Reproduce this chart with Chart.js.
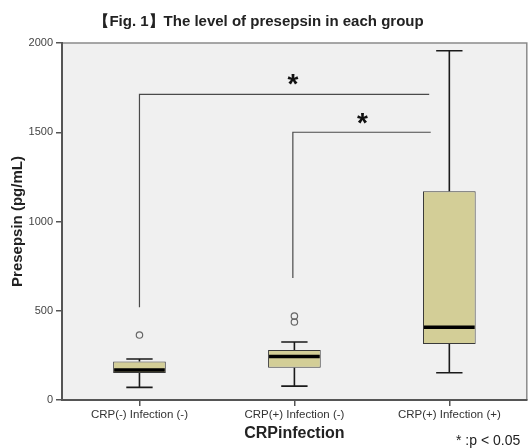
<!DOCTYPE html>
<html>
<head>
<meta charset="utf-8">
<script src="https://cdn.jsdelivr.net/npm/chart.js@4.4.1/dist/chart.umd.min.js"></script>
<style>
  html,body{margin:0;padding:0;background:#fff;}
  #wrap{width:532px;height:448px;}
</style>
</head>
<body>
<div id="wrap"><canvas id="grafica" width="532" height="448"></canvas></div>
<script>
// Datos del boxplot
const categorias = ['CRP(-) Infection (-)', 'CRP(+) Infection (-)', 'CRP(+) Infection (+)'];
const minimos  = [71, 78, 153];
const q1       = [151, 181, 314];
const medianas = [168, 243, 407];
const q3       = [215, 280, 1170];
const maximos  = [230, 325, 1957];
const outCat   = [0, 1, 1];          // categoria de cada valor atipico
const outVal   = [364, 470, 437];
const yTicks   = [0, 500, 1000, 1500, 2000];

// Lineas de significancia: desde / hasta (indice de categoria), altura y caida
const sigDesde  = [0, 0.99];
const sigHasta  = [1.87, 1.88];
const sigAltura = [1712, 1500];
const sigCaida  = [520, 683];
const starX     = [0.99, 1.44];
const starY     = [1793, 1574];

const FONT = '"Liberation Sans", Arial, sans-serif';

// Plugin: fondo, bigotes, medianas, lineas y textos
const boxPlugin = {
  id: 'boxPlugin',
  beforeDraw(chart){
    const {ctx, chartArea:a} = chart;
    ctx.save();
    ctx.fillStyle = '#f0f0f0';
    ctx.fillRect(a.left, a.top, a.right - a.left, a.bottom - a.top);
    ctx.strokeStyle = '#8a8a8a'; ctx.lineWidth = 1.5;
    ctx.beginPath();
    ctx.moveTo(a.left, a.top); ctx.lineTo(a.right, a.top); ctx.lineTo(a.right, a.bottom);
    ctx.stroke();
    ctx.restore();
  },
  beforeDatasetsDraw(chart){
    const {ctx, scales:{x, y}} = chart;
    const meta = chart.getDatasetMeta(0);
    ctx.save();
    ctx.strokeStyle = '#1a1a1a'; ctx.lineWidth = 1.6;
    meta.data.forEach((bar, i) => {
      const cx = bar.x, half = bar.width / 4;
      const yMin = y.getPixelForValue(minimos[i]), yMax = y.getPixelForValue(maximos[i]);
      const yQ1 = y.getPixelForValue(q1[i]), yQ3 = y.getPixelForValue(q3[i]);
      ctx.beginPath();
      ctx.moveTo(cx, yQ3); ctx.lineTo(cx, yMax);
      ctx.moveTo(cx - half, yMax); ctx.lineTo(cx + half, yMax);
      ctx.moveTo(cx, yQ1); ctx.lineTo(cx, yMin);
      ctx.moveTo(cx - half, yMin); ctx.lineTo(cx + half, yMin);
      ctx.stroke();
    });
    // Lineas de significancia
    ctx.strokeStyle = '#4a4a4a'; ctx.lineWidth = 1.2;
    sigDesde.forEach((d, i) => {
      const x1 = x.getPixelForValue(d), x2 = x.getPixelForValue(sigHasta[i]);
      const yh = y.getPixelForValue(sigAltura[i]), yb = y.getPixelForValue(sigCaida[i]);
      ctx.beginPath();
      ctx.moveTo(x1, yb); ctx.lineTo(x1, yh); ctx.lineTo(x2, yh);
      ctx.stroke();
    });
    ctx.fillStyle = '#111';
    ctx.font = 'bold 28px ' + FONT;
    ctx.textAlign = 'center'; ctx.textBaseline = 'alphabetic';
    starX.forEach((sx, i) => {
      ctx.fillText('*', x.getPixelForValue(sx), y.getPixelForValue(starY[i]) + 13);
    });
    ctx.restore();
  },
  afterDatasetsDraw(chart){
    const {ctx, scales:{y}} = chart;
    const meta = chart.getDatasetMeta(0);
    ctx.save();
    ctx.strokeStyle = '#000'; ctx.lineWidth = 3.5;
    meta.data.forEach((bar, i) => {
      const ym = y.getPixelForValue(medianas[i]);
      ctx.beginPath();
      ctx.moveTo(bar.x - bar.width/2 + 1, ym); ctx.lineTo(bar.x + bar.width/2 - 1, ym);
      ctx.stroke();
    });
    ctx.restore();
  },
  afterDraw(chart){
    const {ctx, chartArea:a} = chart;
    ctx.save();
    ctx.fillStyle = '#222';
    ctx.textAlign = 'center'; ctx.textBaseline = 'middle';
    ctx.font = 'bold 15px ' + FONT;
    ctx.fillText('【Fig. 1】The level of presepsin in each group', 259, 22);
    ctx.font = 'bold 16px ' + FONT;
    ctx.fillText('CRPinfection', (a.left + a.right)/2, 434);
    ctx.save();
    ctx.translate(18, (a.top + a.bottom)/2);
    ctx.rotate(-Math.PI/2);
    ctx.font = 'bold 15px ' + FONT;
    ctx.fillText('Presepsin (pg/mL)', 0, 0);
    ctx.restore();
    ctx.font = '14px ' + FONT;
    ctx.textAlign = 'left';
    ctx.fillText('* :p < 0.05', 456, 441);
    ctx.restore();
  }
};

const outliers = outCat.map((c, i) => ({x: categorias[c], y: outVal[i]}));

new Chart(document.getElementById('grafica'), {
  type: 'bar',
  data: {
    labels: categorias,
    datasets: [
      {
        label: 'caja',
        data: q1.map((v, i) => [v, q3[i]]),
        backgroundColor: '#d3ce97',
        borderColor: '#3a3a3a',
        borderWidth: 1,
        borderSkipped: false,
        barPercentage: 0.34,
        categoryPercentage: 1
      },
      {
        type: 'line',
        label: 'atipicos',
        data: outliers,
        showLine: false,
        pointStyle: 'circle',
        pointRadius: 3.2,
        pointBorderWidth: 1.2,
        pointBackgroundColor: 'rgba(0,0,0,0)',
        pointBorderColor: '#666'
      }
    ]
  },
  options: {
    responsive: false,
    animation: false,
    layout: { padding: { top: 43, right: 3, left: 0, bottom: 0 } },
    plugins: { legend: { display: false }, title: { display: false }, tooltip: { enabled: false } },
    scales: {
      x: {
        afterFit: s => { s.height = 48; },
        grid: { display: true, drawOnChartArea: false, drawTicks: true, tickLength: 6, offset: false, color: '#555', lineWidth: 1.5 },
        border: { display: true, color: '#555', width: 2 },
        ticks: { color: '#333', font: { family: FONT, size: 11.5 }, padding: 2, maxRotation: 0 }
      },
      y: {
        min: 0, max: 2000,
        afterFit: s => { s.width = 62; },
        afterBuildTicks: s => { s.ticks = yTicks.map(v => ({value: v})); },
        grid: { display: true, drawOnChartArea: false, drawTicks: true, tickLength: 6, color: '#555', lineWidth: 1.5 },
        border: { display: true, color: '#555', width: 2 },
        ticks: { color: '#444', font: { family: FONT, size: 11 }, padding: 3, callback: v => String(v) }
      }
    }
  },
  plugins: [boxPlugin]
});
</script>
</body>
</html>
